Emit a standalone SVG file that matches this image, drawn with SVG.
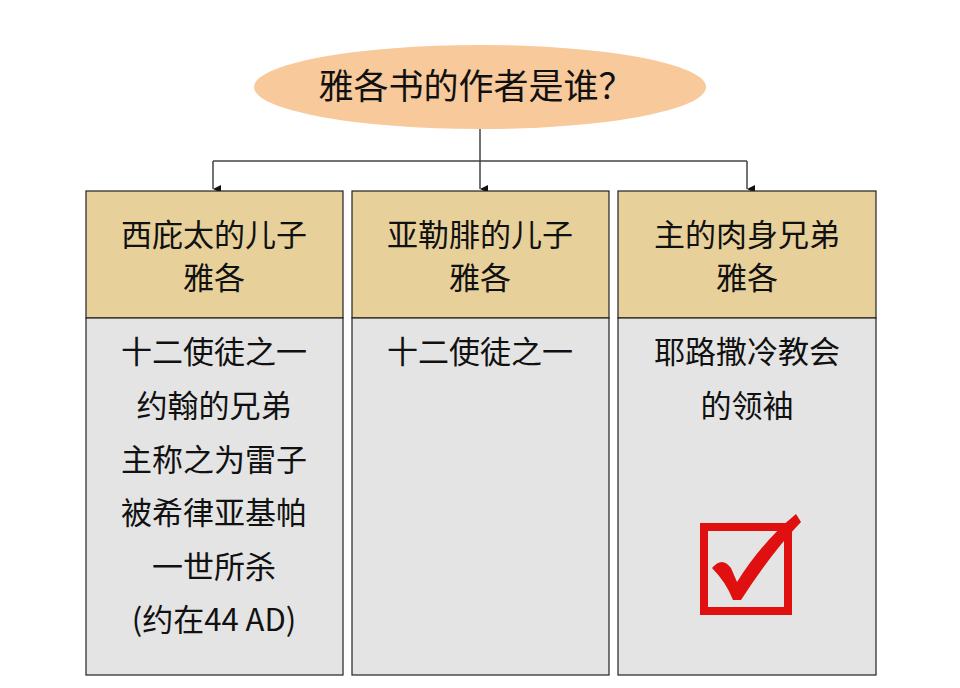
<svg xmlns="http://www.w3.org/2000/svg" width="960" height="688" viewBox="0 0 960 688">
<style>
text{font-family:"Noto Sans CJK SC","Liberation Sans",sans-serif;fill:#111;text-anchor:middle}
.h{font-size:31px}.b{font-size:31px}
.hd{fill:#e8d09a;stroke:#222;stroke-width:1.2}
.bd{fill:#e4e4e4;stroke:#222;stroke-width:1.2}
.c{stroke:#444;stroke-width:1.5;fill:none}
</style>
<defs><marker id="a" markerWidth="10" markerHeight="10" refX="5" refY="9" orient="auto" markerUnits="userSpaceOnUse" viewBox="0 0 10 10"><path d="M1,1 L5,9 L9,1 Z" fill="#111"/></marker></defs>
<rect width="960" height="688" fill="#fff"/>
<g id="title"><ellipse cx="480" cy="87" rx="226" ry="42" fill="#f8c99b"/><text x="476" y="99" style="font-size:35px">雅各书的作者是谁？</text></g>
<g id="connectors">
<path class="c" d="M480,129 V161 M213,161 H747"/>
<path class="c" d="M213,161 V189" marker-end="url(#a)"/>
<path class="c" d="M480,161 V189" marker-end="url(#a)"/>
<path class="c" d="M747,161 V189" marker-end="url(#a)"/>
</g>
<g id="col1"><rect class="hd" x="86" y="191" width="257" height="127"/><rect class="bd" x="86" y="318" width="257" height="357"/>
<text class="h" x="214" y="246">西庇太的儿子</text><text class="h" x="214" y="289">雅各</text>
<text class="b" x="214" y="363">十二使徒之一</text><text class="b" x="214" y="417">约翰的兄弟</text><text class="b" x="214" y="471">主称之为雷子</text><text class="b" x="214" y="524">被希律亚基帕</text><text class="b" x="214" y="578">一世所杀</text><text class="b" x="214" y="631">(约在44 AD)</text></g>
<g id="col2"><rect class="hd" x="352" y="191" width="257" height="127"/><rect class="bd" x="352" y="318" width="257" height="357"/>
<text class="h" x="480" y="246">亚勒腓的儿子</text><text class="h" x="480" y="289">雅各</text>
<text class="b" x="480" y="363">十二使徒之一</text></g>
<g id="col3"><rect class="hd" x="618" y="191" width="258" height="127"/><rect class="bd" x="618" y="318" width="258" height="357"/>
<text class="h" x="747" y="246">主的肉身兄弟</text><text class="h" x="747" y="289">雅各</text>
<text class="b" x="747" y="363">耶路撒冷教会</text><text class="b" x="747" y="417">的领袖</text>
<rect x="704" y="527" width="84" height="84" fill="none" stroke="#e01010" stroke-width="8"/>
<path d="M712,568 Q722,556 731,568 L737,582 Q762,542 796,514 L801,522 Q772,552 741,600 L733,600 Q726,582 712,568 Z" fill="#e01010"/></g>
</svg>
